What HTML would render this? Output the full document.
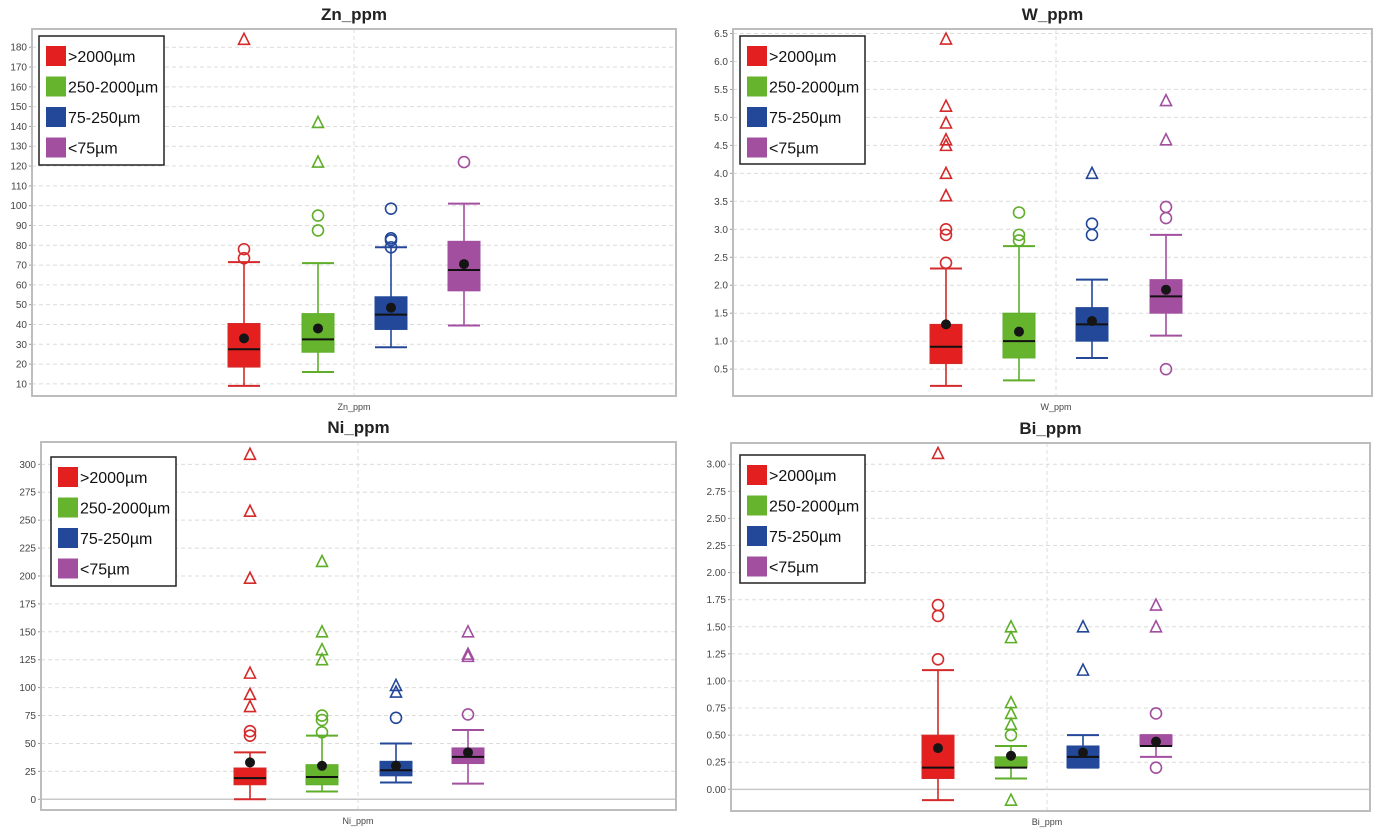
<!DOCTYPE html>
<html><head><meta charset="utf-8"><style>
body{margin:0;background:#fff;width:1380px;height:835px;overflow:hidden;font-family:"Liberation Sans",sans-serif}
svg{display:block}
</style></head><body>
<svg id="chart" width="1380" height="835" xmlns="http://www.w3.org/2000/svg"></svg>
<script>
const groups = [">2000µm","250-2000µm","75-250µm","<75µm"];
const fillColors = ["#e3201f","#66b32e","#23489a","#a24f9f"];
const lineColors = ["#d42a2a","#5fae2a","#23489a","#a24f9f"];
// stats per panel: [low, q1, median, q3, high, mean]
const znStats = [[9,18.5,27.5,40.5,71.5,33],[16,26,32.5,45.5,71,38],[28.5,37.5,45,54,79,48.5],[39.5,57,67.5,82,101,70.5]];
const znCircles = [[78,73.5],[95,87.5],[98.5,83.5,82.5,79],[122]];
const znTriangles = [[184],[142,122],[],[]];
const znTicks = [10,20,30,40,50,60,70,80,90,100,110,120,130,140,150,160,170,180];
const wStats = [[0.2,0.6,0.9,1.3,2.3,1.3],[0.3,0.7,1.0,1.5,2.7,1.17],[0.7,1.0,1.3,1.6,2.1,1.36],[1.1,1.5,1.8,2.1,2.9,1.92]];
const wCircles = [[2.4,2.9,3.0],[2.8,2.9,3.3],[2.9,3.1],[0.5,3.2,3.4]];
const wTriangles = [[3.6,4.0,4.5,4.6,4.9,5.2,6.4],[],[4.0],[4.6,5.3]];
const wTicks = [0.5,1.0,1.5,2.0,2.5,3.0,3.5,4.0,4.5,5.0,5.5,6.0,6.5];
const niStats = [[0,13,19,28,42,33],[7,13,20,31,57,30],[15,21,26,34,50,30],[14,32,38,46,62,42]];
const niCircles = [[57,61],[60,71,75],[73],[76]];
const niTriangles = [[83,94,113,198,258,309],[125,134,150,213],[96,102],[128,130,150]];
const niTicks = [0,25,50,75,100,125,150,175,200,225,250,275,300];
const biStats = [[-0.1,0.1,0.2,0.5,1.1,0.38],[0.1,0.2,0.2,0.3,0.4,0.31],[0.2,0.2,0.3,0.4,0.5,0.34],[0.3,0.4,0.4,0.5,0.5,0.44]];
const biCircles = [[1.2,1.6,1.7],[0.5],[],[0.2,0.7]];
const biTriangles = [[3.1],[-0.1,0.6,0.7,0.8,1.4,1.5],[1.1,1.5],[1.5,1.7]];
const biTicks = [0,0.25,0.5,0.75,1.0,1.25,1.5,1.75,2.0,2.25,2.5,2.75,3.0];

const panels = [
 {name:"Zn_ppm",stats:znStats,circ:znCircles,tri:znTriangles,ticks:znTicks,dec:0,x0:32,x1:676,y0:29,y1:396,vmin:3.9,vmax:189.2,vline:354,cx:[244,318,391,464],leg:[39,36,125,129],zero:false},
 {name:"W_ppm",stats:wStats,circ:wCircles,tri:wTriangles,ticks:wTicks,dec:1,x0:733,x1:1372,y0:29,y1:396,vmin:0.02,vmax:6.58,vline:1056,cx:[946,1019,1092,1166],leg:[740,36,125,128],zero:false},
 {name:"Ni_ppm",stats:niStats,circ:niCircles,tri:niTriangles,ticks:niTicks,dec:0,x0:41,x1:676,y0:442,y1:810,vmin:-9.6,vmax:320,vline:358,cx:[250,322,396,468],leg:[51,457,125,129],zero:true},
 {name:"Bi_ppm",stats:biStats,circ:biCircles,tri:biTriangles,ticks:biTicks,dec:2,x0:731,x1:1370,y0:443,y1:811,vmin:-0.2,vmax:3.196,vline:1047,cx:[938,1011,1083,1156],leg:[740,455,125,128],zero:true}
];
const NS="http://www.w3.org/2000/svg";
const svg=document.getElementById('chart');
function mk(tag,attrs,parent){const e=document.createElementNS(NS,tag);for(const k in attrs)e.setAttribute(k,attrs[k]);(parent||svg).appendChild(e);return e;}
panels.forEach((p,pi)=>{
  const g=mk('g',{});
  
  
  const y=v=>p.y1-(v-p.vmin)/(p.vmax-p.vmin)*(p.y1-p.y0);
  const t=mk('text',{x:(p.x0+p.x1)/2,y:p.y0-9,'text-anchor':'middle','font-size':17,'font-weight':'bold',fill:'#222'},g);
  t.textContent=p.name;
  
  
  p.ticks.forEach(v=>{
    const yy=y(v);
    const gl=mk('line',{x1:p.x0,x2:p.x1,y1:yy,y2:yy,stroke:'#dcdcdc','stroke-dasharray':'4,3','stroke-width':1},g);
    
    
    mk('line',{x1:p.x0-3,x2:p.x0,y1:yy,y2:yy,stroke:'#999'},g);
    const tl=mk('text',{x:p.x0-5,y:yy+3.5,'text-anchor':'end','font-size':10,fill:'#444'},g);
    tl.textContent=v.toFixed(p.dec);
    
    
  });
  if(p.zero){const zl=mk('line',{x1:p.x0,x2:p.x1,y1:y(0),y2:y(0),stroke:'#c8c8c8','stroke-width':1.5},g);
    }
  mk('line',{x1:p.vline,x2:p.vline,y1:p.y0,y2:p.y1,stroke:'#dcdcdc','stroke-dasharray':'4,3'},g);
  const fr=mk('rect',{x:p.x0,y:p.y0,width:p.x1-p.x0,height:p.y1-p.y0,fill:'none',stroke:'#bdbdbd','stroke-width':2},g);
  
  
  const xl=mk('text',{x:p.vline,y:p.y1+14,'text-anchor':'middle','font-size':9,fill:'#444'},g);
  xl.textContent=p.name;
  
  
  p.stats.forEach((s,i)=>{
    const cx=p.cx[i],hw=16,c=lineColors[i];
    const bg=mk('g',{},g);
    
    
    mk('line',{x1:cx,x2:cx,y1:y(s[0]),y2:y(s[4]),stroke:c,'stroke-width':1.6},bg);
    mk('line',{x1:cx-hw,x2:cx+hw,y1:y(s[0]),y2:y(s[0]),stroke:c,'stroke-width':2},bg);
    mk('line',{x1:cx-hw,x2:cx+hw,y1:y(s[4]),y2:y(s[4]),stroke:c,'stroke-width':2},bg);
    mk('rect',{x:cx-hw,y:y(s[3]),width:hw*2,height:Math.max(1,y(s[1])-y(s[3])),fill:fillColors[i],stroke:c,'stroke-width':1},bg);
    mk('line',{x1:cx-hw,x2:cx+hw,y1:y(s[2]),y2:y(s[2]),stroke:'#111','stroke-width':2},bg);
    p.circ[i].forEach(v=>{const o=mk('circle',{cx:cx,cy:y(v),r:5.5,fill:'none',stroke:c,'stroke-width':1.6},bg);
      });
    p.tri[i].forEach(v=>{const yy=y(v);const o=mk('polygon',{points:`${cx},${yy-6} ${cx-5.5},${yy+5} ${cx+5.5},${yy+5}`,fill:'none',stroke:c,'stroke-width':1.6},bg);
      });
    const m=mk('circle',{cx:cx,cy:y(s[5]),r:5,fill:'#151515'},bg);
    
    
  });
  const [lx,ly,lw,lh]=p.leg;
  const lg=mk('g',{},g);
  
  
  mk('rect',{x:lx,y:ly,width:lw,height:lh,fill:'#fff',stroke:'#222','stroke-width':1.5},lg);
  groups.forEach((name,i)=>{
    const ry=ly+20+i*30.5;
    const e=mk('g',{},lg);
    
    
    mk('rect',{x:lx+7,y:ry-10,width:20,height:20,fill:fillColors[i]},e);
    const tx=mk('text',{x:lx+29,y:ry+6,'font-size':16,fill:'#111'},e);
    tx.textContent=name;
  });
});
</script>
</body></html>
